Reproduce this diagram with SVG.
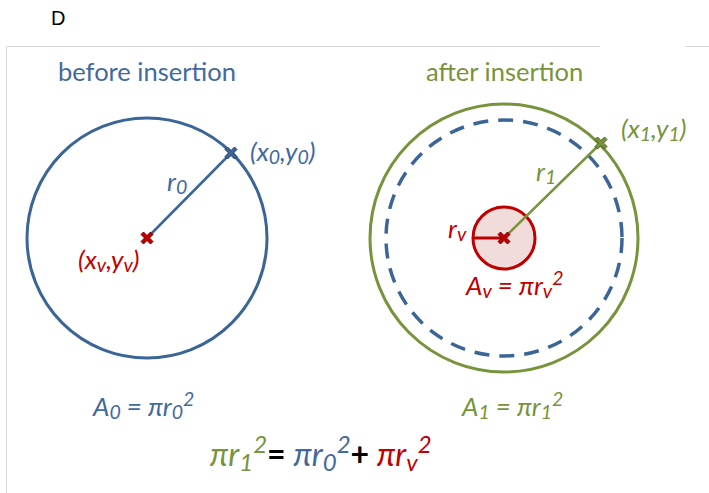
<svg xmlns="http://www.w3.org/2000/svg" width="709" height="493" viewBox="0 0 709 493">
<style>
.t{font-family:Lato,"Open Sans","Liberation Sans",sans-serif}
.i{font-style:italic}
.b{fill:#41699f}
.g{fill:#77933c}
.r{fill:#c00000}
.sub{font-size:75%}
.op{fill:#000;font-style:normal;font-weight:bold}
</style>
<defs>
<path id="x" d="M-6,-3.5 L-3.5,-6 L0,-2.5 L3.5,-6 L6,-3.5 L2.5,0 L6,3.5 L3.5,6 L0,2.5 L-3.5,6 L-6,3.5 L-2.5,0 Z"/>
</defs>
<rect width="709" height="493" fill="#fff"/>
<text x="51" y="25" font-family="Liberation Sans,Arial,sans-serif" font-size="20" fill="#000">D</text>
<g id="frame" stroke="#d9d9d9" stroke-width="1" fill="none">
<line x1="6.5" y1="46.5" x2="600" y2="46.5"/>
<line x1="685" y1="46.5" x2="709" y2="46.5"/>
<line x1="6.5" y1="46.5" x2="6.5" y2="493"/>
</g>
<g id="before">
<text class="t b" x="58" y="81" font-size="25.5">before insertion</text>
<circle cx="147" cy="238" r="120" fill="none" stroke="#3c6597" stroke-width="3"/>
</g>
<g id="after">
<text class="t g" x="426" y="81" font-size="25.5">after insertion</text>
<circle cx="504" cy="238" r="134" fill="none" stroke="#77933c" stroke-width="3"/>
<circle cx="504" cy="238" r="118" fill="none" stroke="#3c6597" stroke-width="3.5" stroke-dasharray="15,10"/>
<circle id="vessel" cx="504" cy="238" r="31" fill="#f2dcdb" stroke="#c00000" stroke-width="3"/>
</g>
<g id="connectors">
<line x1="147" y1="238" x2="231" y2="153" stroke="#3c6597" stroke-width="2.5"/>
<line x1="504" y1="238" x2="601" y2="143" stroke="#77933c" stroke-width="2.5"/>
<line x1="474" y1="238" x2="504" y2="238" stroke="#c00000" stroke-width="3"/>
</g>
<g id="markers" stroke-width="1">
<use href="#x" x="147" y="238" fill="#c00000" stroke="#7a0000"/>
<use href="#x" x="231" y="153" fill="#3c6597" stroke="#24406a"/>
<use href="#x" x="504" y="238" fill="#c00000" stroke="#7a0000"/>
<use href="#x" x="601" y="143" fill="#77933c" stroke="#4a5e24"/>
</g>
<g id="labels" class="t i" font-size="26">
<text class="b" x="250" y="161">(x<tspan class="sub" dy="3">0</tspan><tspan dy="-3">,y</tspan><tspan class="sub" dy="3">0</tspan><tspan dy="-3">)</tspan></text>
<text class="b" x="167" y="191">r<tspan class="sub" dy="3">0</tspan></text>
<text class="r" x="78" y="269">(x<tspan class="sub" dy="3">v</tspan><tspan dy="-3">,y</tspan><tspan class="sub" dy="3">v</tspan><tspan dy="-3">)</tspan></text>
<text class="g" x="621" y="138">(x<tspan class="sub" dy="3">1</tspan><tspan dy="-3">,y</tspan><tspan class="sub" dy="3">1</tspan><tspan dy="-3">)</tspan></text>
<text class="g" x="536" y="181">r<tspan class="sub" dy="3">1</tspan></text>
<text class="r" x="448" y="238">r<tspan class="sub" dy="3">v</tspan></text>
<text class="r" x="466" y="295">A<tspan class="sub" dy="3">v</tspan><tspan dy="-3"> = πr</tspan><tspan class="sub" dy="3">v</tspan><tspan class="sub" dy="-13">2</tspan></text>
<text class="b" x="93" y="416">A<tspan class="sub" dy="3">0</tspan><tspan dy="-3"> = πr</tspan><tspan class="sub" dy="3">0</tspan><tspan class="sub" dy="-13">2</tspan></text>
<text class="g" x="462" y="416">A<tspan class="sub" dy="3">1</tspan><tspan dy="-3"> = πr</tspan><tspan class="sub" dy="3">1</tspan><tspan class="sub" dy="-13">2</tspan></text>
</g>
<g id="equation" class="t i" font-size="32">
<text x="210" y="466"><tspan fill="#77933c">πr<tspan class="sub" dy="5">1</tspan><tspan class="sub" dy="-18">2</tspan></tspan><tspan class="op" dy="13">= </tspan><tspan fill="#41699f">πr<tspan class="sub" dy="5">0</tspan><tspan class="sub" dy="-18">2</tspan></tspan><tspan class="op" dy="13">+ </tspan><tspan fill="#c00000">πr<tspan class="sub" dy="5">v</tspan><tspan class="sub" dy="-18">2</tspan></tspan></text>
</g>
</svg>
